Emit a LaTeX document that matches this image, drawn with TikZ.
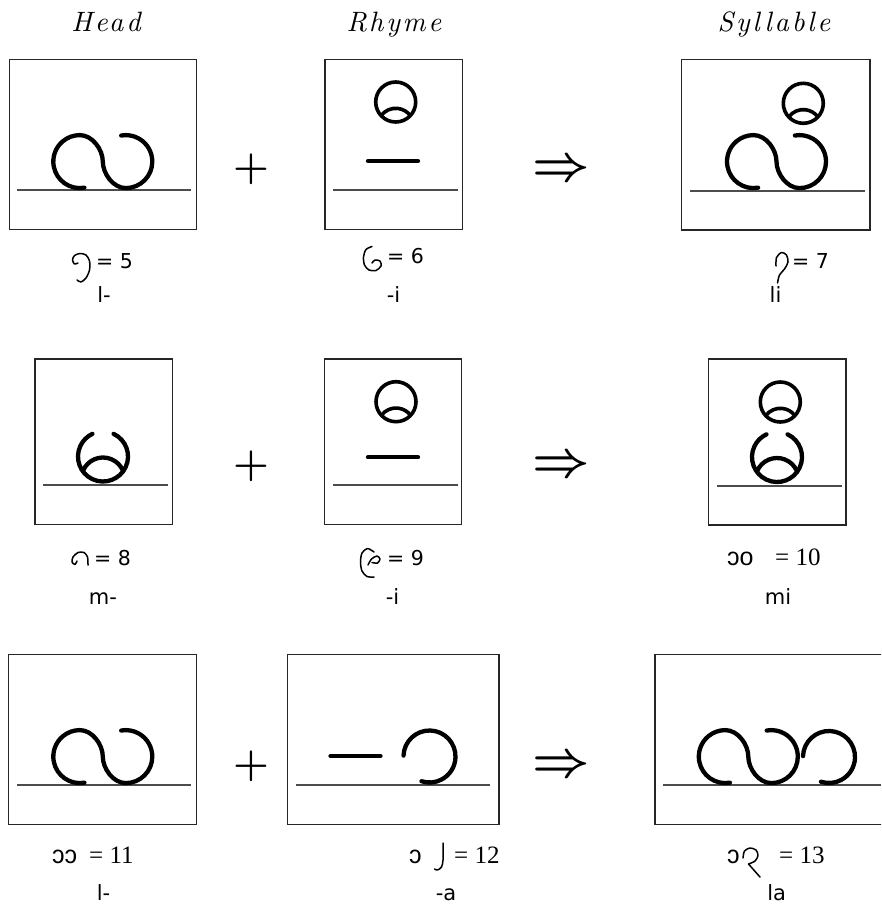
\RequirePackage{fix-cm}
\documentclass[tikz,border=0pt]{standalone}
\usepackage{fontspec}
\newfontfamily\numfont{DejaVu Sans}
\newfontfamily\serfont{Liberation Serif}
\newfontfamily\ipafont{Liberation Sans}
\newfontfamily\ttlfont{lmroman10-italic.otf}[LetterSpace=10]
\usetikzlibrary{arrows.meta}
\tikzset{
  frame/.style={draw=black!85,line width=1.2pt,inner sep=0pt},
  ground/.style={draw=black!70,line width=1.7pt},
  ink/.style={draw=black,line width=4.3pt,line cap=round},
  ring/.style={draw=black,line width=3.6pt},
  pen/.style={draw=black,line width=1.5pt,line cap=round,line join=round},
  ttl/.style={font=\ttlfont\fontsize{28}{30}\selectfont,anchor=base,inner sep=0pt},
  num/.style={font=\numfont\fontsize{20.5}{25}\selectfont,anchor=base west,inner sep=0pt},
  snum/.style={font=\serfont\fontsize{25}{30}\selectfont,anchor=base west,inner sep=0pt},
  ipa/.style={font=\ipafont\fontsize{25}{30}\selectfont,anchor=base west,inner sep=0pt},
  tag/.style={font=\numfont\fontsize{21}{26}\selectfont,anchor=base,inner sep=0pt},
  plus/.style={font=\fontsize{41}{41}\selectfont\boldmath,inner sep=0pt},
  yields/.style={font=\fontsize{50}{50}\selectfont\boldmath,inner sep=0pt},
}
% glyph pieces (pixel units, y downwards)
\tikzset{
  headl/.pic={\draw[ink] (-23,0) ++(80:26.5) arc[start angle=80,end angle=270,radius=26.5]
      .. controls (-10.3,-26.5) and (0,-11.9) .. (0,0)
      .. controls (0,11.9) and (10.3,26.5) .. (23,26.5)
      arc[start angle=90,end angle=-100,radius=26.5];},
  headm/.pic={\draw[ink] (-65:25) arc[start angle=-65,end angle=245,radius=25];
      \draw[ink] (0,22.7) ++(-158:21.7) arc[start angle=-158,end angle=-22,radius=21.7];},
  crown/.pic={\draw[ring] (0,0) circle[radius=20];
      \draw[ring] (0,24.5) ++(-143:18.2) arc[start angle=-143,end angle=-37,radius=18.2];},
  hooka/.pic={\draw[ink] (-178:26) arc[start angle=-178,end angle=108,radius=26];},
  bar/.pic={\draw[ink] (-25,0) -- (25,0);},
}
\begin{document}
\begin{tikzpicture}[x=1pt,y=-1pt]
\path[use as bounding box] (0,0) rectangle (881,907);
\clip (0,0) rectangle (881,907);
% -column titles-
\node[ttl] (tHead) at (106,32) {Head};
\node[ttl] (tRhyme) at (394,32) {Rhyme};
\node[ttl] (tSyll) at (774,32) {Syllable};
% -row one: l- + -i-
\node[frame,minimum width=187.4pt,minimum height=170pt] (hd1) at (103,144.3) {};
\node[frame,minimum width=137.3pt,minimum height=170pt] (rh1) at (393.7,144.3) {};
\node[frame,minimum width=188.3pt,minimum height=170.7pt] (sy1) at (775.8,144.6) {};
\draw[ground] (17,190) -- (191,190); \draw[ground] (333,190) -- (458,190); \draw[ground] (690,190.7) -- (865,190.7);
\pic at (102.8,161.6) {headl};
\pic at (395.7,102) {crown}; \pic at (393,161) {bar};
\pic at (776.5,161.6) {headl}; \pic at (803.3,103.3) {crown};
\node[plus] (p1) at (251,169.5) {$+$};
\node[yields] (y1) at (561,171) {$\Rightarrow$};
\draw[pen] plot[smooth] coordinates {(78,263) (74.5,264) (72.5,260) (74.5,255.5) (80,253.5) (86,255) (89.5,261) (89.5,270) (86,278) (81,282) (77,280)};
\node[num] (v5) at (96,268) {= 5};
\draw[pen] plot[smooth] coordinates {(372,246.5) (366,249.5) (363.5,257) (364.5,265) (369,270) (376,270.5) (381,266) (380,261) (375,260) (372,263)};
\node[num] (v6) at (387,263) {= 6};
\draw[pen] plot[smooth] coordinates {(776,266) (776.5,257.5) (781.5,252.5) (786.5,255) (788,262) (784.5,269) (779.5,275) (777.5,283)};
\node[num] (v7) at (792,268) {= 7};
\node[tag] (s1a) at (104,302) {l-};
\node[tag] (s1b) at (393.5,302) {-i};
\node[tag] (s1c) at (775.5,302) {li};
% -row two: m- + -i-
\node[frame,minimum width=137.3pt,minimum height=165.3pt] (hd2) at (103.7,441.7) {};
\node[frame,minimum width=137.4pt,minimum height=165.3pt] (rh2) at (393,441.7) {};
\node[frame,minimum width=137.7pt,minimum height=166pt] (sy2) at (777.2,442) {};
\draw[ground] (43,485) -- (168,485); \draw[ground] (333,485) -- (458,485); \draw[ground] (717,486) -- (842,486);
\pic at (103,456.5) {headm};
\pic at (396,401.7) {crown}; \pic at (393,457.3) {bar};
\pic at (777,457) {headm}; \pic at (780.3,402) {crown};
\node[plus] (p2) at (251,466) {$+$};
\node[yields] (y2) at (561,467) {$\Rightarrow$};
\draw[pen] plot[smooth] coordinates {(77,561) (75,564.5) (72,562) (73,557) (78,552.5) (84,552.5) (87.5,557) (88,565)};
\node[num] (v8) at (94,565) {= 8};
\draw[pen] plot[smooth] coordinates {(374,552) (367.5,548.5) (362,553) (360.5,562) (362,571) (367,576.5) (374,577)};
\draw[pen] plot[smooth] coordinates {(368,565) (371.5,559) (377,556) (380,559) (377.5,563) (372,562.5)};
\node[num] (v9) at (387,565) {= 9};
\node[ipa] (g10) at (727,565) {ɔo};
\node[snum] (v10) at (775,565) {= 10};
\node[tag] (s2a) at (103,604) {m-};
\node[tag] (s2b) at (392.5,604) {-i};
\node[tag] (s2c) at (778,604) {mi};
% -row three: l- + -a-
\node[frame,minimum width=188.4pt,minimum height=170pt] (hd3) at (102.5,739.3) {};
\node[frame,minimum width=211.7pt,minimum height=170pt] (rh3) at (393.2,739.3) {};
\node[frame,minimum width=240pt,minimum height=170pt] (sy3) at (775,739.3) {};
\draw[ground] (17,785) -- (191,785); \draw[ground] (296,785) -- (490,785); \draw[ground] (663,785) -- (881,785);
\pic at (102.8,756.6) {headl};
\pic at (355.5,756) {bar}; \pic at (429.5,756.5) {hooka};
\pic at (748.3,756.6) {headl}; \pic at (829,757) {hooka};
\node[plus] (p3) at (251,766) {$+$};
\node[yields] (y3) at (561,766.7) {$\Rightarrow$};
\node[ipa] (g11) at (52,863.3) {ɔɔ};
\node[snum] (v11) at (89,863.3) {= 11};
\node[ipa] (g12) at (409,863.3) {ɔ};
\draw[pen] plot[smooth] coordinates {(443,843) (443,860) (441.5,867) (437.5,870) (434.5,869)};
\node[snum] (v12) at (454,863.3) {= 12};
\node[ipa] (g13) at (727,863.3) {ɔ};
\draw[pen] plot[smooth] coordinates {(743,858) (744.5,851) (750,848) (756,850) (758,855.5) (755,861) (748.5,864)} -- (760,877);
\node[snum] (v13) at (779,863.3) {= 13};
\node[tag] (s3a) at (103.5,900) {l-};
\node[tag] (s3b) at (446,900) {-a};
\node[tag] (s3c) at (776.7,900) {la};
\end{tikzpicture}
\end{document}
